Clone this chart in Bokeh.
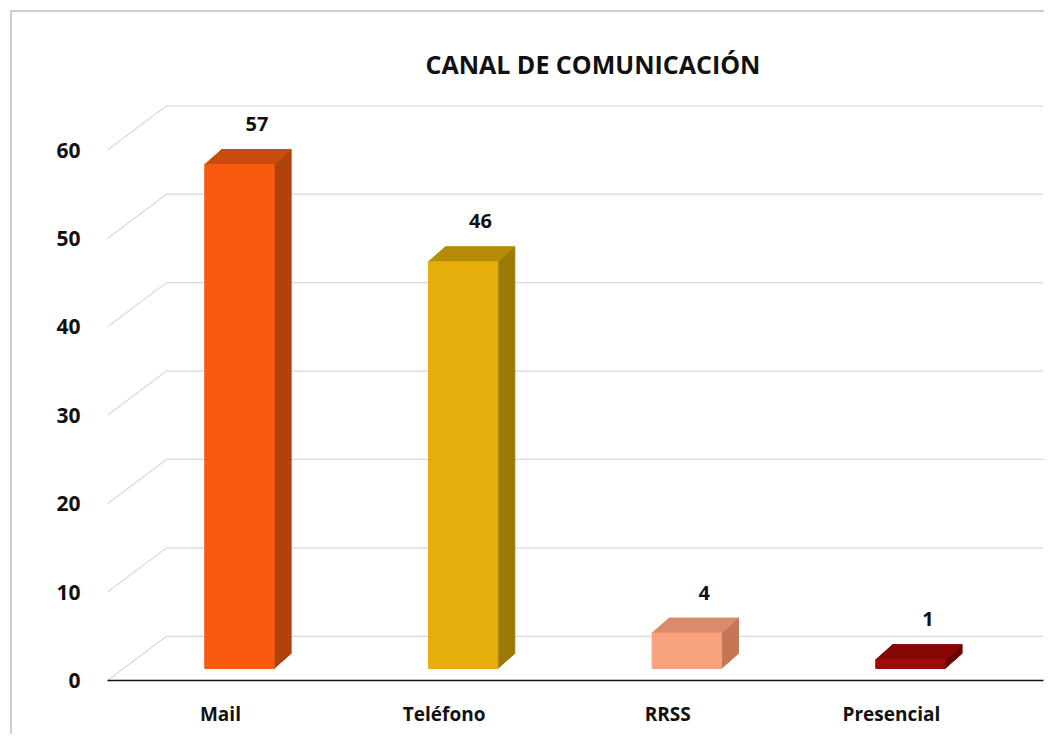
from bokeh.plotting import figure
from bokeh.models import ColumnDataSource, FixedTicker, Range1d
from bokeh.core.properties import value
from bokeh.embed import file_html
from bokeh.resources import INLINE

# ---- data ----
categories = ["Mail", "Teléfono", "RRSS", "Presencial"]
values = [57, 46, 4, 1]
front_colors = ["#FA5A10", "#E5AE0A", "#F8A27E", "#A00A0A"]
side_colors = ["#B0420E", "#9C7805", "#C57657", "#6C0202"]
top_colors = ["#C94B0E", "#B68B06", "#D98B6A", "#860606"]
y_ticks = [0, 10, 20, 30, 40, 50, 60]
title_text = "CANAL DE COMUNICACIÓN"

FONT = "Open Sans"
X0, X1 = -0.505, 3.68
Y0, Y1 = 0, 65.6
WALL_DX, WALL_DY = 0.264, 5.0      # perspective offset of the back wall
BAR_W = 0.31
BAR_SHIFT = 0.085
BAR_LIFT = 1.36
DEPTH_DX, DEPTH_DY = 0.076, 1.7

p = figure(width=1034, height=724, x_range=Range1d(X0, X1), y_range=Range1d(Y0, Y1),
           output_backend="svg", toolbar_location=None,
           min_border_left=95, min_border_right=3, min_border_top=88, min_border_bottom=56)
p.styles = {"border-left": "2px solid #cfcfcf", "border-top": "2px solid #cfcfcf",
            "margin-left": "10px", "margin-top": "10px"}
p.outline_line_color = None
p.xgrid.visible = False
p.ygrid.visible = False
p.background_fill_color = "white"
p.border_fill_color = "white"

# perspective gridlines
gxs = [[X0, X0 + WALL_DX, X1] for v in y_ticks]
gys = [[v, v + WALL_DY, v + WALL_DY] for v in y_ticks]
p.multi_line(xs=gxs, ys=gys, line_color="#D9D9D9", line_width=1.2)

# bars
fl, fr, fb, ft = [], [], [], []
sxs, sys_, txs, tys = [], [], [], []
lx, ly, lt = [], [], []
for i, v in enumerate(values):
    xl = i + BAR_SHIFT - BAR_W / 2
    xr = xl + BAR_W
    yb = BAR_LIFT
    yt = v + BAR_LIFT
    fl.append(xl); fr.append(xr); fb.append(yb); ft.append(yt)
    sxs.append([xr, xr, xr + DEPTH_DX, xr + DEPTH_DX])
    sys_.append([yb, yt, yt + DEPTH_DY, yb + DEPTH_DY])
    txs.append([xl, xr, xr + DEPTH_DX, xl + DEPTH_DX])
    tys.append([yt, yt, yt + DEPTH_DY, yt + DEPTH_DY])
    lx.append(i + BAR_SHIFT + DEPTH_DX / 2 + 0.04)
    ly.append(yt + DEPTH_DY + 2.1)
    lt.append(str(v))

p.patches(xs=sxs, ys=sys_, fill_color=side_colors, line_color=side_colors, line_width=1)
p.patches(xs=txs, ys=tys, fill_color=top_colors, line_color=top_colors, line_width=1)
p.quad(left=fl, right=fr, bottom=fb, top=ft, fill_color=front_colors, line_color=front_colors)

src = ColumnDataSource(dict(x=lx, y=ly, t=lt))
p.text(x="x", y="y", text="t", source=src, text_font=value(FONT), text_font_style="bold",
       text_font_size="20px", text_align="center", text_baseline="bottom", text_color="#111111")

# axes
p.yaxis.ticker = FixedTicker(ticks=y_ticks)
p.yaxis.axis_line_color = None
p.yaxis.major_tick_line_color = None
p.yaxis.minor_tick_line_color = None
p.yaxis.major_label_standoff = 21
p.yaxis.major_label_text_font = FONT
p.yaxis.major_label_text_font_style = "bold"
p.yaxis.major_label_text_font_size = "21px"
p.yaxis.major_label_text_color = "#111111"

p.xaxis.ticker = FixedTicker(ticks=list(range(len(categories))))
p.xaxis.major_label_overrides = {i: c for i, c in enumerate(categories)}
p.xaxis.axis_line_color = "#111111"
p.xaxis.axis_line_width = 1.6
p.xaxis.major_tick_line_color = None
p.xaxis.minor_tick_line_color = None
p.xaxis.major_label_standoff = 14
p.xaxis.major_label_text_font = FONT
p.xaxis.major_label_text_font_style = "bold"
p.xaxis.major_label_text_font_size = "19px"
p.xaxis.major_label_text_color = "#111111"

p.title.text = title_text
p.title.align = "left"
p.title.offset = 318
p.title.standoff = 39
p.title.text_font = FONT
p.title.text_font_style = "bold"
p.title.text_font_size = "25px"
p.title.text_color = "#111111"

open("out.html", "w").write(file_html(p, INLINE))
